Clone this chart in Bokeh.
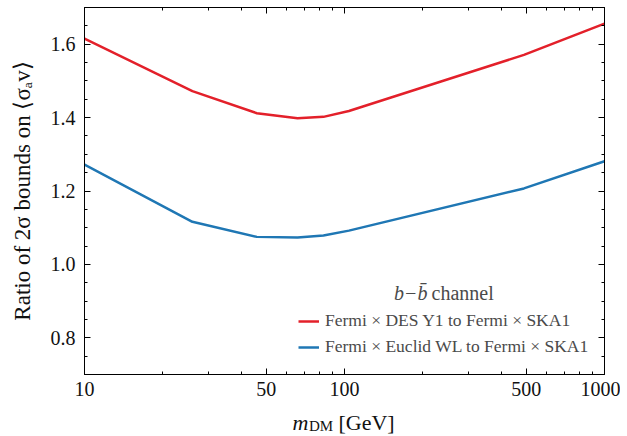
from bokeh.plotting import figure
from bokeh.layouts import column
from bokeh.models import (FixedTicker, LogAxis, LinearAxis, PrintfTickFormatter,
                          CustomJSTickFormatter, Legend, LegendItem, Label, Range1d)
from bokeh.embed import file_html
from bokeh.resources import INLINE

# ---- data ----
mass = [10, 26, 46, 66, 83, 104, 490, 1000]
ratio_des = [1.615, 1.472, 1.412, 1.398, 1.402, 1.418, 1.571, 1.656]
ratio_euclid = [1.272, 1.116, 1.075, 1.073, 1.079, 1.092, 1.207, 1.281]

x_major = [10, 50, 100, 500, 1000]
x_minor = [20, 30, 40, 60, 70, 80, 90, 200, 300, 400, 600, 700, 800, 900]
y_major = [0.8, 1.0, 1.2, 1.4, 1.6]
y_minor = [round(0.7 + 0.05 * i, 2) for i in range(21)]

label_des = "Fermi \u00d7 DES Y1 to Fermi \u00d7 SKA1"
label_euclid = "Fermi \u00d7 Euclid WL to Fermi \u00d7 SKA1"

RED = "#e3202a"
BLUE = "#1f77b4"
FONT = "Liberation Serif"
W = 620

p = figure(width=W, height=398, x_axis_type="log",
           x_range=Range1d(10, 1000), y_range=Range1d(0.7, 1.7),
           output_backend="svg", toolbar_location=None,
           min_border_left=84, min_border_right=16,
           min_border_top=7, min_border_bottom=23)
p.grid.visible = False
p.outline_line_color = "black"
p.outline_line_width = 1

r1 = p.line(mass, ratio_des, line_color=RED, line_width=2.5)
r2 = p.line(mass, ratio_euclid, line_color=BLUE, line_width=2.5)

xt = FixedTicker(ticks=x_major, minor_ticks=x_minor)
yt = FixedTicker(ticks=y_major, minor_ticks=y_minor)

def style(ax, labels=True):
    ax.axis_line_color = "black"
    ax.axis_line_width = 1
    ax.major_tick_in = 6
    ax.major_tick_out = 0
    ax.minor_tick_in = 3
    ax.minor_tick_out = 0
    ax.major_tick_line_color = "black"
    ax.minor_tick_line_color = "black"
    ax.major_label_text_font = FONT
    ax.major_label_text_font_size = "20px"
    ax.major_label_text_color = "#111111"
    if not labels:
        ax.major_label_text_font_size = "0px"
        ax.major_label_standoff = 0

xa = p.xaxis[0]
xa.ticker = xt
xa.formatter = PrintfTickFormatter(format="%d")
style(xa)
xa.major_label_standoff = 7

ya = p.yaxis[0]
ya.ticker = yt
ya.formatter = PrintfTickFormatter(format="%.1f")
style(ya)
ya.major_label_standoff = 9
ya.axis_label = "Ratio of 2\u03c3 bounds on \u27e8\u03c3\u2090v\u27e9"
ya.axis_label_text_font = FONT
ya.axis_label_text_font_size = "23px"
ya.axis_label_text_font_style = "normal"
ya.axis_label_text_color = "#111111"
ya.axis_label_standoff = 13

top = LogAxis(ticker=xt, formatter=CustomJSTickFormatter(code="return ''"))
style(top, labels=False)
p.add_layout(top, "above")
right = LinearAxis(ticker=yt, formatter=CustomJSTickFormatter(code="return ''"))
style(right, labels=False)
p.add_layout(right, "right")

# legend
legend = Legend(items=[LegendItem(label=label_des, renderers=[r1]),
                       LegendItem(label=label_euclid, renderers=[r2])],
                location="bottom_right", margin=0, padding=0, spacing=5,
                glyph_width=21, glyph_height=20, label_height=20, label_standoff=6,
                label_text_font=FONT, label_text_font_size="17.5px",
                label_text_color="#4a4a4a",
                border_line_color=None, background_fill_alpha=0)
legend.location = (520 - 16 - 290, 17)
p.add_layout(legend)

# legend title
p.add_layout(Label(x=343, y=82, x_units="screen", y_units="screen", text="b\u2212b\u0304",
                   text_font=FONT, text_font_size="20px", text_font_style="italic",
                   text_color="#4a4a4a", text_align="right", text_baseline="alphabetic"))
p.add_layout(Label(x=347, y=82, x_units="screen", y_units="screen", text="channel",
                   text_font=FONT, text_font_size="20px",
                   text_color="#4a4a4a", text_align="left", text_baseline="alphabetic"))

# x-axis label strip below the plot
q = figure(width=W, height=38, x_range=Range1d(84, 604), y_range=Range1d(0, 38),
           output_backend="svg", toolbar_location=None,
           min_border_left=84, min_border_right=16, min_border_top=0, min_border_bottom=0,
           x_axis_location=None, y_axis_location=None)
q.grid.visible = False
q.outline_line_color = None
q.add_layout(Label(x=292, y=14, text="m", text_font=FONT, text_font_size="22px",
                   text_font_style="italic", text_color="#111111",
                   text_baseline="alphabetic"))
q.add_layout(Label(x=308.5, y=10.5, text="DM", text_font=FONT, text_font_size="15px",
                   text_color="#111111", text_baseline="alphabetic"))
q.add_layout(Label(x=338, y=14, text="[GeV]", text_font=FONT, text_font_size="22px",
                   text_color="#111111", text_baseline="alphabetic"))

layout = column(p, q, spacing=0)
open("out.html", "w").write(file_html(layout, INLINE))
